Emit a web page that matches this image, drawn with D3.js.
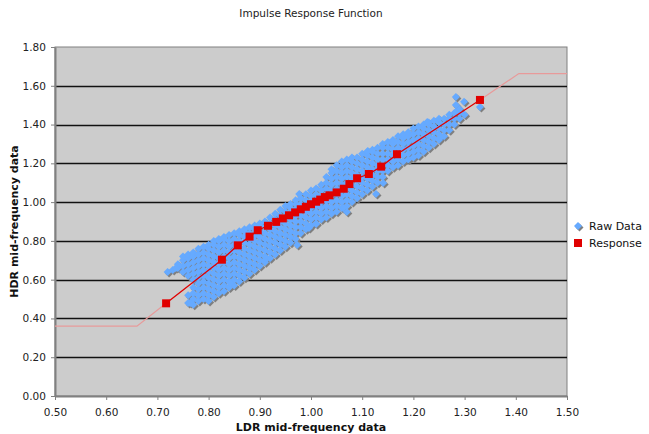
<!DOCTYPE html>
<html>
<head>
<meta charset="utf-8">
<script src="https://cdn.jsdelivr.net/npm/d3@7"></script>
<style>
  body { margin: 0; background: #fff; }
  svg { font-family: Verdana, "DejaVu Sans", sans-serif; }
</style>
</head>
<body>
<div id="chart"></div>
<script>
// Raw Data: columns of LDR values, each with the HDR values
const rawX = [0.72, 0.73, 0.74, 0.75, 0.76, 0.77, 0.78, 0.79, 0.80, 0.81, 0.82, 0.83, 0.84, 0.85,
  0.86, 0.87, 0.88, 0.89, 0.90, 0.91, 0.92, 0.93, 0.94, 0.95, 0.96, 0.97, 0.98, 0.99, 1.00,
  1.01, 1.02, 1.03, 1.04, 1.05, 1.06, 1.07, 1.08, 1.09, 1.10, 1.11, 1.12, 1.13, 1.14, 1.15,
  1.16, 1.17, 1.18, 1.19, 1.20, 1.21, 1.22, 1.23, 1.24, 1.25, 1.26, 1.27, 1.28, 1.29, 1.30]
const rawY = [
  [0.64], [0.65], [0.66, 0.68], [0.64, 0.67, 0.70, 0.72],
  [0.48, 0.52, 0.62, 0.65, 0.68, 0.71, 0.73],
  [0.47, 0.50, 0.53, 0.56, 0.60, 0.63, 0.66, 0.69, 0.72, 0.74],
  [0.49, 0.52, 0.55, 0.58, 0.61, 0.64, 0.67, 0.70, 0.73, 0.76],
  [0.50, 0.53, 0.56, 0.59, 0.62, 0.65, 0.68, 0.71, 0.74, 0.77],
  [0.49, 0.52, 0.55, 0.58, 0.61, 0.64, 0.67, 0.70, 0.73, 0.76, 0.78],
  [0.51, 0.54, 0.57, 0.60, 0.63, 0.66, 0.69, 0.72, 0.75, 0.78, 0.80],
  [0.53, 0.56, 0.59, 0.62, 0.65, 0.68, 0.71, 0.74, 0.77, 0.80, 0.81],
  [0.54, 0.57, 0.60, 0.63, 0.66, 0.69, 0.72, 0.75, 0.78, 0.81, 0.82],
  [0.56, 0.59, 0.62, 0.65, 0.68, 0.71, 0.74, 0.77, 0.80, 0.83],
  [0.57, 0.60, 0.63, 0.66, 0.69, 0.72, 0.75, 0.78, 0.81, 0.84],
  [0.59, 0.62, 0.65, 0.68, 0.71, 0.74, 0.77, 0.80, 0.83, 0.85],
  [0.61, 0.64, 0.67, 0.70, 0.73, 0.76, 0.79, 0.82, 0.85, 0.86],
  [0.63, 0.66, 0.69, 0.72, 0.75, 0.78, 0.81, 0.84, 0.87],
  [0.65, 0.68, 0.71, 0.74, 0.77, 0.80, 0.83, 0.86, 0.88],
  [0.67, 0.70, 0.73, 0.76, 0.79, 0.82, 0.85, 0.88, 0.89],
  [0.69, 0.72, 0.75, 0.78, 0.81, 0.84, 0.87, 0.90],
  [0.71, 0.74, 0.77, 0.80, 0.83, 0.86, 0.89, 0.92],
  [0.73, 0.76, 0.79, 0.82, 0.85, 0.88, 0.91, 0.94],
  [0.75, 0.78, 0.81, 0.84, 0.87, 0.90, 0.93, 0.96],
  [0.77, 0.80, 0.83, 0.86, 0.89, 0.92, 0.95, 0.98],
  [0.79, 0.82, 0.85, 0.88, 0.91, 0.94, 0.97, 0.99],
  [0.81, 0.84, 0.87, 0.90, 0.93, 0.96, 0.99, 1.01],
  [0.84, 0.87, 0.90, 0.93, 0.96, 0.99, 1.02],
  [0.86, 0.89, 0.92, 0.95, 0.98, 1.01, 1.04],
  [0.88, 0.91, 0.94, 0.97, 1.00, 1.03, 1.06],
  [0.89, 0.92, 0.95, 0.98, 1.01, 1.04, 1.07],
  [0.91, 0.94, 0.97, 1.00, 1.03, 1.06, 1.09],
  [0.92, 0.95, 0.98, 1.01, 1.04, 1.07, 1.10, 1.13],
  [0.94, 0.97, 1.00, 1.03, 1.06, 1.09, 1.12, 1.15, 1.17],
  [0.95, 0.98, 1.01, 1.04, 1.07, 1.10, 1.13, 1.16, 1.19],
  [0.97, 1.00, 1.03, 1.06, 1.09, 1.12, 1.15, 1.18, 1.21],
  [0.98, 1.01, 1.04, 1.07, 1.10, 1.13, 1.16, 1.19, 1.22],
  [1.00, 1.03, 1.06, 1.09, 1.12, 1.15, 1.18, 1.21, 1.23],
  [1.02, 1.05, 1.08, 1.11, 1.14, 1.17, 1.20, 1.23],
  [1.04, 1.07, 1.10, 1.13, 1.16, 1.19, 1.22, 1.25],
  [1.06, 1.09, 1.12, 1.15, 1.18, 1.21, 1.24, 1.26],
  [1.08, 1.11, 1.14, 1.17, 1.20, 1.23, 1.26, 1.27],
  [1.10, 1.13, 1.16, 1.19, 1.22, 1.25, 1.28],
  [1.13, 1.16, 1.19, 1.22, 1.25, 1.28, 1.30],
  [1.16, 1.19, 1.22, 1.25, 1.28, 1.31],
  [1.18, 1.21, 1.24, 1.27, 1.30, 1.32],
  [1.19, 1.22, 1.25, 1.28, 1.31, 1.34],
  [1.21, 1.24, 1.27, 1.30, 1.33, 1.35],
  [1.22, 1.25, 1.28, 1.31, 1.34, 1.36],
  [1.23, 1.26, 1.29, 1.32, 1.35, 1.38],
  [1.24, 1.27, 1.30, 1.33, 1.36, 1.39],
  [1.26, 1.29, 1.32, 1.35, 1.38, 1.40],
  [1.28, 1.31, 1.34, 1.37, 1.40, 1.41],
  [1.30, 1.33, 1.36, 1.39, 1.42],
  [1.32, 1.35, 1.38, 1.41, 1.43],
  [1.34, 1.37, 1.40, 1.43],
  [1.37, 1.40, 1.43, 1.45],
  [1.40, 1.43, 1.46],
  [1.43, 1.46, 1.48],
  [1.45]
]
// stray raw points outside the main band
const strayX = [1.283, 1.283, 1.299, 1.283, 1.330, 1.227, 1.252, 1.127, 1.063, 1.111, 0.977,
  0.996, 1.010, 0.973, 0.910, 0.842, 0.764, 1.141, 1.070, 0.736]
const strayY = [1.542, 1.501, 1.517, 1.465, 1.491, 1.413, 1.331, 1.042, 0.970, 1.264, 1.042,
  0.867, 0.887, 0.779, 0.700, 0.583, 0.480, 1.099, 0.949, 0.660]

// Response series
const respX = [0.717, 0.826, 0.857, 0.880, 0.896, 0.916, 0.932, 0.945, 0.957, 0.969, 0.980,
  0.990, 1.000, 1.010, 1.018, 1.027, 1.036, 1.050, 1.064, 1.075, 1.090, 1.113, 1.137, 1.168, 1.330]
const respY = [0.478, 0.703, 0.777, 0.822, 0.855, 0.878, 0.898, 0.916, 0.932, 0.947, 0.963,
  0.976, 0.989, 1.002, 1.013, 1.026, 1.035, 1.050, 1.069, 1.093, 1.123, 1.145, 1.183, 1.247, 1.527]

// clamped ends of the response curve (faint line)
const lowEndX = [0.50, 0.66, 0.717]
const lowEndY = [0.36, 0.36, 0.478]
const highEndX = [1.330, 1.406, 1.50]
const highEndY = [1.527, 1.663, 1.663]

const xTicks = [0.5, 0.6, 0.7, 0.8, 0.9, 1.0, 1.1, 1.2, 1.3, 1.4, 1.5]
const yTicks = [0, 0.2, 0.4, 0.6, 0.8, 1.0, 1.2, 1.4, 1.6, 1.8]

const width = 649
const height = 434
const plot = { left: 55, right: 567, top: 47, bottom: 396 }

const svg = d3.select("#chart").append("svg")
  .attr("width", width)
  .attr("height", height)

const x = d3.scaleLinear().domain([0.5, 1.5]).range([plot.left, plot.right])
const y = d3.scaleLinear().domain([0, 1.8]).range([plot.bottom, plot.top])

svg.append("rect")
  .attr("x", plot.left).attr("y", plot.top)
  .attr("width", plot.right - plot.left).attr("height", plot.bottom - plot.top)
  .attr("fill", "#cccccc")
  .attr("stroke", "#808080")
  .attr("stroke-width", 1)

// gridlines
svg.append("g")
  .selectAll("line")
  .data(yTicks.filter(d => d > 0 && d < 1.8))
  .enter().append("line")
  .attr("x1", plot.left).attr("x2", plot.right)
  .attr("y1", d => Math.round(y(d)) + 0.5).attr("y2", d => Math.round(y(d)) + 0.5)
  .attr("stroke", "#111")
  .attr("stroke-width", 1.4)

// axes
const xAxis = svg.append("g")
  .attr("transform", `translate(0,${plot.bottom})`)
  .call(d3.axisBottom(x).tickValues(xTicks).tickSize(4).tickSizeOuter(0).tickFormat(d3.format(".2f")))
const yAxis = svg.append("g")
  .attr("transform", `translate(${plot.left},0)`)
  .call(d3.axisLeft(y).tickValues(yTicks).tickSize(4).tickSizeOuter(0).tickFormat(d3.format(".2f")))

;[xAxis, yAxis].forEach(a => {
  a.select(".domain").attr("stroke", "#808080").attr("stroke-width", 2)
  a.selectAll(".tick line").attr("stroke", "#808080")
  a.selectAll(".tick text").attr("fill", "#222").attr("font-size", "10.5px")
    .attr("font-family", "Verdana, 'DejaVu Sans', sans-serif")
})
xAxis.selectAll(".tick text").attr("dy", "1.2em")
yAxis.selectAll(".tick text").attr("dx", "-0.2em")

// faint clamped ends
const line = d3.line().x(d => x(d[0])).y(d => y(d[1]))
;[[lowEndX, lowEndY], [highEndX, highEndY]].forEach(([xs, ys]) => {
  svg.append("path")
    .attr("d", line(xs.map((v, i) => [v, ys[i]])))
    .attr("fill", "none")
    .attr("stroke", "#e89a9a")
    .attr("stroke-width", 1.2)
})

// raw data diamonds with shadow
const rawPoints = []
rawX.forEach((xv, i) => rawY[i].forEach(yv => rawPoints.push([xv, yv])))
strayX.forEach((xv, i) => rawPoints.push([xv, strayY[i]]))

const diamond = "M0,-4L4,0L0,4L-4,0Z"
svg.append("g")
  .selectAll("path")
  .data(rawPoints)
  .enter().append("path")
  .attr("d", diamond)
  .attr("transform", d => `translate(${x(d[0]) + 1.5},${y(d[1]) + 1.5})`)
  .attr("fill", "#7f7f7f")
svg.append("g")
  .selectAll("path")
  .data(rawPoints)
  .enter().append("path")
  .attr("d", diamond)
  .attr("transform", d => `translate(${x(d[0])},${y(d[1])})`)
  .attr("fill", "#66aaff")

// response line and squares
const respPoints = respX.map((v, i) => [v, respY[i]])
svg.append("path")
  .attr("d", line(respPoints))
  .attr("fill", "none")
  .attr("stroke", "#e00000")
  .attr("stroke-width", 1.3)
svg.append("g")
  .selectAll("rect")
  .data(respPoints)
  .enter().append("rect")
  .attr("x", d => x(d[0]) - 4).attr("y", d => y(d[1]) - 4)
  .attr("width", 8).attr("height", 8)
  .attr("fill", "#e00000")

// titles
svg.append("text")
  .attr("x", 311).attr("y", 17)
  .attr("text-anchor", "middle")
  .attr("font-size", "10.5px")
  .attr("fill", "#222")
  .text("Impulse Response Function")

svg.append("text")
  .attr("x", 311).attr("y", 431)
  .attr("text-anchor", "middle")
  .attr("font-size", "11px")
  .attr("font-weight", "bold")
  .attr("fill", "#111")
  .text("LDR mid-frequency data")

svg.append("text")
  .attr("transform", `translate(18,${(plot.top + plot.bottom) / 2}) rotate(-90)`)
  .attr("text-anchor", "middle")
  .attr("font-size", "11px")
  .attr("font-weight", "bold")
  .attr("fill", "#111")
  .text("HDR mid-frequency data")

// legend
const legend = svg.append("g").attr("transform", "translate(578,226)")
legend.append("path").attr("d", diamond).attr("transform", "translate(1.5,1.5)").attr("fill", "#7f7f7f")
legend.append("path").attr("d", diamond).attr("fill", "#66aaff")
legend.append("text").attr("x", 11).attr("y", 4).attr("font-size", "11px").attr("fill", "#111").text("Raw Data")
legend.append("rect").attr("x", -4).attr("y", 13).attr("width", 8).attr("height", 8).attr("fill", "#e00000")
legend.append("text").attr("x", 11).attr("y", 21).attr("font-size", "11px").attr("fill", "#111").text("Response")
</script>
</body>
</html>
